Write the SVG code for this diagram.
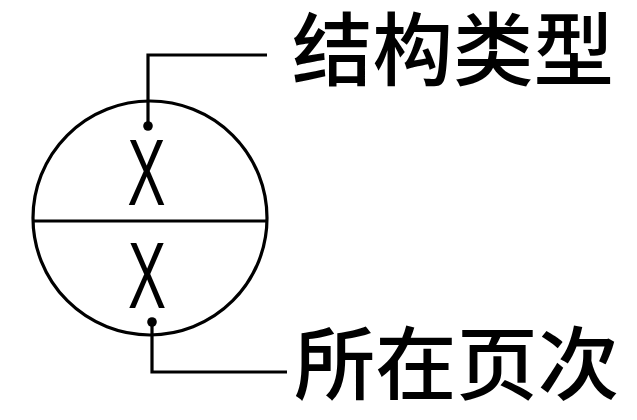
<svg xmlns="http://www.w3.org/2000/svg" width="637" height="420" viewBox="0 0 637 420">
<style>
.ln{fill:none;stroke:#000;stroke-width:3.2}
.cjk{font-family:"Noto Sans CJK SC","Noto Sans CJK JP",sans-serif;font-size:80px;font-weight:500;fill:#000}
.x{font-family:"Liberation Sans",Arial,sans-serif;font-size:95px;fill:#000;text-anchor:middle}
</style>
<defs>
<marker id="dot" viewBox="0 0 10 10" refX="5" refY="5" markerWidth="10" markerHeight="10" markerUnits="userSpaceOnUse">
<circle cx="5" cy="5" r="4.8" fill="#000"/>
</marker>
</defs>
<rect width="637" height="420" fill="#fff"/>
<g id="symbol">
<circle class="ln" cx="150" cy="218" r="117"/>
<line class="ln" x1="33" y1="221" x2="267" y2="221"/>
<text class="x" transform="translate(146.5,205) scale(0.6,1)">X</text>
<text class="x" transform="translate(147,308) scale(0.6,1)">X</text>
</g>
<g id="connectors">
<polyline class="ln" points="267,55 148,55 148,126" marker-end="url(#dot)"/>
<polyline class="ln" points="287,372 152,372 152,322" marker-end="url(#dot)"/>
</g>
<g id="label-type">
<text class="cjk" x="292" y="79" textLength="322" lengthAdjust="spacingAndGlyphs">结构类型</text>
</g>
<g id="label-page">
<text class="cjk" x="294" y="393" textLength="325" lengthAdjust="spacingAndGlyphs">所在页次</text>
</g>
</svg>
